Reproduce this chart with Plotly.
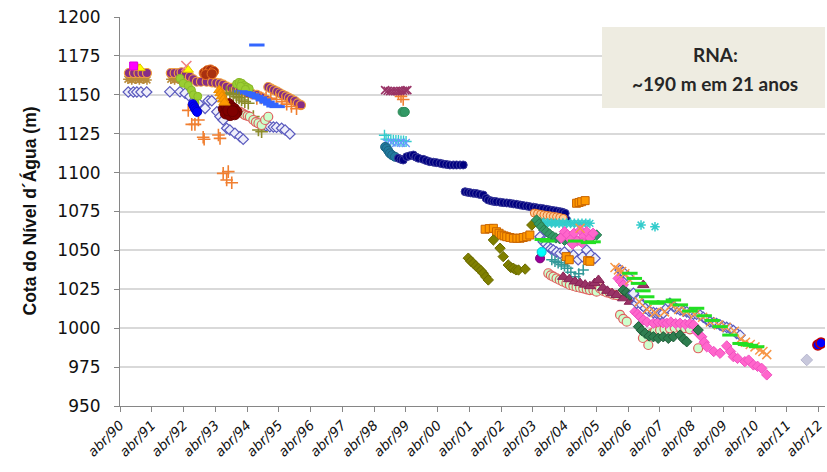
import plotly.graph_objects as go

# ---------------- axis labels ----------------
x_tick_years = [1990.25 + i for i in range(23)]
x_tick_text = ["abr/%02d" % (y % 100) for y in range(1990, 2013)]
y_ticks = [950, 975, 1000, 1025, 1050, 1075, 1100, 1125, 1150, 1175, 1200]

# ---------------- data (decimal year, elevation m) ----------------
purple1_x = [1990.53,1990.69,1990.83,1990.96,1991.10,1991.85,1991.97,1992.10,1992.19,1992.32,1992.45,1992.56,1992.67,1992.80,1992.98,1993.15,1993.28,1993.40,1993.50,1993.61,1993.75,1993.90,1994.02,1994.13,1994.27,1994.42,1994.56,1994.70,1994.87]
purple1_y = [1164,1164,1164,1164,1164,1164,1164,1164,1164.5,1163,1161.6,1160,1158.4,1158.4,1158.4,1158,1157.6,1157.4,1156.5,1155.2,1154.5,1153.5,1152.8,1152,1151,1150.5,1150,1148.5,1146.7]
purple2_x = [1994.92,1995.01,1995.10,1995.20,1995.29,1995.38,1995.48,1995.57,1995.66,1995.76,1995.85,1995.95]
purple2_y = [1155,1154,1153,1152,1151,1150,1149,1148,1147,1146,1144.5,1143.4]
brown_ast_x = [1990.50,1990.62,1990.74,1990.86,1990.98,1991.10,1991.85,1991.97,1992.10,1992.25,1992.40]
brown_ast_y = [1160,1159.5,1160,1159.5,1160,1159.5,1160,1159.5,1160,1159.5,1159]
bdiam1_x = [1990.51,1990.67,1990.78,1990.91,1991.09,1991.82,1992.14,1992.30,1992.45,1992.59,1992.72,1992.93,1993.03,1993.14,1993.30,1993.40,1993.50,1993.61,1993.71,1993.87,1994.03,1994.13,1994.71,1994.85,1994.97,1995.08,1995.18,1995.34,1995.45,1995.60]
bdiam1_y = [1151.8,1151.8,1151.8,1151.8,1151.8,1152,1152,1151,1148.8,1146.5,1144.5,1141.3,1146.2,1146.2,1139.1,1136,1133.8,1128.5,1127.4,1125.3,1123.1,1121.4,1130.6,1130,1129.5,1129.3,1129.1,1128.5,1127.4,1124.8]
oplus1_x = [1992.40,1992.72,1992.51,1992.61,1992.87,1992.90,1993.35,1993.40,1993.50,1993.66,1993.61,1993.77]
oplus1_y = [1140,1133.8,1131,1131,1122.7,1121.4,1124.2,1122,1099.5,1100.6,1095.2,1093.5]
oplus2_x = [1994.56,1994.70,1994.85,1995.00,1995.18,1995.35,1995.50,1995.65,1995.81,1999.02,1999.10,1999.17]
oplus2_y = [1147.7,1148,1148,1147.7,1147,1145.5,1144,1142.5,1141,1151,1149,1147]
maroon_x = [1993.52,1993.60,1993.68,1993.76,1993.84,1993.92,1993.58,1993.72,1993.86,1993.66,1993.80]
maroon_y = [1141,1143,1144,1142,1141,1139,1138,1137,1137.5,1140,1139.5]
rust_x = [1992.90,1993.00,1993.10,1993.20,1992.95,1993.15]
rust_y = [1164,1165.5,1166,1165,1163,1163.5]
lgreen1_x = [1994.03,1994.11,1994.19,1994.27,1994.34,1994.45,1994.53,1994.61,1994.71,1994.82,1994.92]
lgreen1_y = [1139.1,1138,1137,1136.5,1135.9,1133.8,1132.5,1131.7,1130.6,1133.8,1135.9]
bdash_x = [1994.03,1994.15,1994.27,1994.40,1994.52,1994.64,1994.76,1994.88,1995.00,1995.10,1995.20,1994.56]
bdash_y = [1152,1151.5,1151,1150,1149,1148,1146.7,1145.3,1144,1142.8,1142.4,1182]
ygreen_x = [1993.92,1994.00,1994.08,1994.16,1994.24,1994.32,1994.05,1994.20,1992.14,1992.24,1992.40,1992.50,1992.56,1992.61,1992.70]
ygreen_y = [1157,1158,1157.5,1156,1155,1154,1155.5,1153.5,1160.6,1157.4,1156,1153,1150,1144.7,1149]
bfill_x = [1992.54,1992.58,1992.61,1992.65,1992.68]
bfill_y = [1144,1142.5,1141.3,1140,1139]
otri_x = [1993.38,1993.42,1993.46,1993.50,1993.54]
otri_y = [1153,1151,1149,1147,1145]
oliveplus_x = [1993.60,1993.71,1993.82,1993.92,1994.00,1994.08,1994.18,1994.29,1994.45,1994.61,1994.71]
oliveplus_y = [1151.5,1151,1150,1148.8,1148,1146.7,1145.6,1144.6,1136,1127.4,1126.3]
pinkx_x = [1992.34]
pinkx_y = [1168.5]
ytri_x = [1990.80,1990.88,1992.40]
ytri_y = [1167.5,1167,1166]
msq_x = [1990.68]
msq_y = [1168.5]
pdash99_x = [1998.60,1998.68,1998.76,1998.84,1998.92,1999.00,1999.08,1999.16,1999.24,1999.30]
pdash99_y = [1153,1152.6,1152.4,1152.3,1152.3,1152.4,1152.5,1152.6,1152.8,1153]
green99_x = [1999.15,1999.22]
green99_y = [1139,1139]
cplus_x = [1998.58,1998.63,1998.70,1998.78,1998.86,1998.94,1999.02,1999.10,1999.18,1999.26]
cplus_y = [1124,1121.5,1121,1121,1120.8,1120.5,1120.5,1120.3,1120.2,1120]
bx99_x = [1998.66,1998.80,1998.95,1999.10,1999.25]
bx99_y = [1119,1119.3,1119,1119.2,1119]
teal_x = [1998.60,1998.65,1998.70,1998.75,1998.82,1998.91]
teal_y = [1116.5,1115.6,1114,1112.4,1111.2,1110.2]
navy_x = [1999.02,1999.10,1999.17,1999.28,1999.38,1999.49,1999.57,1999.65,1999.80,1999.90,2000.01,2000.12,2000.22,2000.33,2000.43,2000.54,2000.64,2000.75,2000.85,2000.96,2001.06,2001.12,2001.20,2001.29,2001.38,2001.48,2001.58,2001.69,2001.78,2001.85,2001.95,2002.03,2002.11,2002.22,2002.32,2002.43,2002.53,2002.64,2002.74,2002.85,2002.95,2003.06,2003.16,2003.27,2003.37,2003.48,2003.58,2003.69,2003.79,2003.90,2004.00,2004.11,2004.19,2004.27,2004.32]
navy_y = [1109.2,1108.5,1108.1,1110.2,1110.8,1111.3,1110,1109.2,1108.5,1107.7,1107,1106.7,1106.4,1106,1105.5,1105.2,1104.9,1104.9,1104.9,1104.9,1104.9,1087.7,1087.3,1087,1086.7,1086.5,1086,1085.6,1083.5,1082.4,1081.8,1081.5,1081.3,1081,1080.7,1080.5,1080.3,1079.9,1079.6,1079.2,1078.8,1078.5,1078.1,1077.8,1077.4,1077.1,1076.8,1076.4,1076,1075.6,1075.3,1074.9,1074.5,1073.8,1069.5]
osq1_x = [2001.75,2001.88,2002.01,2002.11,2002.19,2002.27,2002.35,2002.43,2002.53,2002.64,2002.75,2002.85,2002.95,2003.06,2003.16]
osq1_y = [1063.6,1064,1064.2,1062,1061,1059.9,1059.3,1058.8,1058.3,1057.8,1057.8,1057.8,1058.3,1058.8,1059.9]
osq2_x = [2004.63,2004.71,2004.79,2004.90,2004.30,2004.40,2004.98,2005.05]
osq2_y = [1080.3,1080.8,1081.3,1082,1046,1044,1043.4,1043]
olive_x = [2001.22,2001.30,2001.38,2001.46,2001.54,2001.62,2001.69,2001.77,2001.85,2002.01,2002.22,2002.32,2002.48,2002.56,2002.64,2002.72,2002.80,2003.01,2003.22]
olive_y = [1045,1043,1041.7,1040,1038.5,1037,1035.3,1033,1031,1056.7,1051.4,1046,1040.6,1039,1038.5,1037.5,1037.4,1038,1066.3]
peach_x = [2003.30,2003.40,2003.50,2003.60,2003.70,2003.80,2003.90,2004.00,2004.10,2004.21]
peach_y = [1074,1073.6,1073.2,1072.8,1072.5,1072.2,1071.9,1071.6,1071.2,1070.6]
cast_x = [2003.48,2003.60,2003.72,2003.84,2003.96,2004.08,2004.20,2004.32,2004.44,2004.56,2004.68,2004.80,2004.92,2005.05,2006.66,2007.10]
cast_y = [1068.4,1068,1067.8,1067.6,1067.6,1067.5,1067.5,1067.5,1067.4,1067.4,1067.4,1067.4,1067.4,1067.4,1066.3,1065.2]
dgreen1_x = [2003.37,2003.45,2003.52,2003.60,2003.68,2003.78,2003.88,2003.98,2004.10,2004.25,2004.42,2004.60,2004.80,2005.00,2005.15,2005.26]
dgreen1_y = [1069.5,1067,1065.2,1063,1062,1060.5,1059,1058,1057.5,1056.5,1055.6,1056.5,1057.5,1058.5,1059.5,1059.9]
dgreen2_x = [2006.10,2006.20,2006.31,2006.58,2006.68,2006.79,2006.92,2007.05,2007.20,2007.36,2007.52,2007.68,2007.89,2008.00,2008.10,2008.46]
dgreen2_y = [1024.5,1023,1021.3,1001,998.5,996.7,995,994.5,993.5,994.5,993.5,994.5,995.6,993,991.3,998.8]
pink1_x = [2004.15,2004.25,2004.35,2004.45,2004.55,2004.65,2004.75,2004.85,2004.95,2005.05,2005.15,2004.50,2004.80]
pink1_y = [1058,1062,1060,1057,1061,1056,1063,1059,1062,1058,1061,1054,1055]
pink2_x = [2005.94,2006.02,2006.10,2006.47,2006.55,2006.63,2006.73,2006.85,2007.05,2007.20,2007.35,2007.47,2007.60,2007.75,2007.89,2008.05,2008.20,2008.31,2008.41,2008.57,2008.65,2008.73,2008.95,2009.15,2009.36,2009.48,2009.57,2009.70,2009.93,2010.05,2010.20,2010.33,2010.46,2010.62]
pink2_y = [1032,1030,1027.8,1010.6,1009,1007.4,1005.3,1004,1003.2,1004,1003.5,1003.2,1004,1003,1003.2,1002.5,1003,1002.1,997.8,994.5,991,988.1,985,983.9,988.6,985,981.7,980.6,978.5,979.5,976.4,975.5,974.2,970]
tplus_x = [2003.85,2003.95,2004.05,2004.15,2004.25,2004.35,2004.45,2004.58,2004.70,2004.84]
tplus_y = [1044,1043,1042,1041,1040,1038.5,1036,1033,1035,1037.4]
lgreen2_x = [2003.74,2003.82,2003.90,2004.00,2004.10,2004.20,2004.31,2004.42,2004.53,2004.63,2004.74,2004.84,2004.95,2005.05,2005.16,2005.26,2005.37,2005.47,2005.58,2005.68,2005.78,2005.89,2006.00,2006.10,2006.21,2006.72,2006.89,2007.00,2007.10,2007.26,2007.40,2007.57,2007.72,2007.89,2008.05,2008.20,2008.46]
lgreen2_y = [1035.3,1034,1033.1,1032,1031,1030,1029,1027.8,1027.2,1026.5,1026,1025.6,1025,1024.5,1024.5,1023.5,1025.6,1024,1023,1022.6,1021.5,1021.3,1008.5,1006,1004.2,993.7,989.2,996.7,998,998.8,999.5,999.9,1000.3,1000.6,1000,999.3,987.1]
wine_x = [2004.21,2004.40,2004.58,2004.74,2004.90,2005.05,2005.20,2005.32,2005.46,2005.60,2005.75,2005.89,2006.10,2006.31,2006.73]
wine_y = [1033,1031.5,1030,1029,1028,1027,1029,1031,1026,1024,1022.5,1021.3,1019.2,1017,1027.8]
bdiam2_x = [2003.48,2003.58,2003.66,2003.74,2003.82,2003.90,2004.00,2004.11,2004.25,2004.40,2004.53,2004.68,2004.82,2004.95,2005.08,2005.21]
bdiam2_y = [1058.8,1055.6,1054,1052.4,1051,1050.3,1049,1048.1,1049,1046,1047,1044,1046,1050.3,1047,1044.9]
bdiam3_x = [2006.00,2006.10,2006.26,2006.42,2006.52,2006.58,2006.68,2006.79,2006.92,2007.05,2007.15,2007.26,2007.36,2007.47,2007.57,2007.68,2007.78,2007.89,2008.00,2008.10,2008.20,2008.31,2008.41,2008.52,2008.62,2008.73,2008.83,2008.94,2009.04,2009.15,2009.25,2009.36,2009.46,2009.57,2009.67,2009.78]
bdiam3_y = [1037.4,1036,1033.1,1022.4,1016,1018.1,1015,1012.8,1011,1010,1009.6,1009,1009.6,1013,1016,1014,1012.5,1011.7,1011,1010.5,1009.6,1009,1009,1008.5,1007,1005.5,1004.2,1003.5,1003,1002,1001,1000.5,999.9,998.5,996.7,995.5]
ox_x = [2005.84,2005.95,2006.05,2006.15,2006.31,2006.60,2006.85,2007.10,2007.40,2007.62,2007.85,2008.10,2008.35,2008.60,2008.85,2009.10,2009.35,2009.60,2009.80,2009.95,2010.10,2010.25,2010.40,2010.50,2010.62,2004.74]
ox_y = [1039,1037.5,1036.5,1035,1031,1017,1012,1010,1010.5,1015,1012,1010.5,1009,1007,1004,1002,1000.5,998,993,991,989.5,988,986,985,983,1064.2]
gdash_x = [2006.31,2006.45,2006.58,2006.72,2006.84,2007.00,2007.15,2007.40,2007.68,2007.90,2008.20,2008.41,2008.65,2008.90,2009.15,2009.46,2009.78,2009.95,2010.10,2010.30,2003.55,2003.70,2004.60,2005.00,2005.15]
gdash_y = [1035.3,1032,1028.8,1024,1020.2,1017,1016,1017,1018.1,1015,1011,1012.8,1008,1005,1001,995.6,990.2,989.5,989,988.1,1057,1056,1056,1055,1055.5]
mcirc_x = [2003.48]
mcirc_y = [1044.9]
ccirc_x = [2003.53]
ccirc_y = [1049]
gray_x = [2011.88]
gray_y = [979.6]
bred_x = [2012.23, 2012.33]
bred_y = [989.2, 990.5]

# ---------------- traces ----------------
fig = go.Figure()

def add(x, y, symbol, size, fill, edge, lw=1.0):
    fig.add_trace(go.Scatter(
        x=x, y=y, mode="markers", hoverinfo="skip", showlegend=False,
        marker=dict(symbol=symbol, size=size, color=fill,
                    line=dict(color=edge, width=lw))))

add(bdiam1_x, bdiam1_y, "diamond", 8, "#EEEEFA", "#5A5ABE", 1.2)
add(brown_ast_x, brown_ast_y, "asterisk-open", 8, "#B98A3A", "#B98A3A", 1.6)
add(purple1_x, purple1_y, "circle", 9, "#862D86", "#F0A040", 1.2)
add(purple2_x, purple2_y, "circle", 9, "#862D86", "#F0A040", 1.2)
add(oplus1_x, oplus1_y, "cross-thin-open", 9, "#F07F30", "#F07F30", 1.6)
add(oplus2_x, oplus2_y, "cross-thin-open", 9, "#F07F30", "#F07F30", 1.6)
add(ygreen_x, ygreen_y, "circle", 8, "#9ACD32", "#88B828", 1)
add(bdash_x, bdash_y, "line-ew-open", 11, "#3366FF", "#3366FF", 3)
add(oliveplus_x, oliveplus_y, "cross-thin-open", 9, "#8C8C2A", "#8C8C2A", 1.6)
add(lgreen1_x, lgreen1_y, "circle", 9, "#CCFFCC", "#E06060", 1.2)
add(maroon_x, maroon_y, "circle", 11, "#800000", "#6A0000", 1)
add(rust_x, rust_y, "circle", 10, "#A83010", "#E87020", 1)
add(bfill_x, bfill_y, "circle", 9, "#0000FF", "#0000CC", 1)
add(otri_x, otri_y, "triangle-up", 10, "#FF9900", "#E68A00", 1)
add(pinkx_x, pinkx_y, "x-thin-open", 10, "#F08080", "#F08080", 1.6)
add(ytri_x, ytri_y, "triangle-up", 9, "#FFFF00", "#E0C000", 1)
add(msq_x, msq_y, "square", 8, "#FF00FF", "#DD00DD", 1)

add(pdash99_x, pdash99_y, "x-thin-open", 8, "#993366", "#993366", 1.6)
add(green99_x, green99_y, "circle", 9, "#339966", "#2E8B57", 1)
add(cplus_x, cplus_y, "cross-thin-open", 8, "#33CCCC", "#33CCCC", 1.4)
add(bx99_x, bx99_y, "x-thin-open", 8, "#6699FF", "#6699FF", 1.4)
add(teal_x, teal_y, "circle", 9, "#217A9E", "#1B6584", 1)
add(navy_x, navy_y, "circle", 8, "#000080", "#3A3A9A", 1)

add(osq1_x, osq1_y, "square", 8, "#FF9900", "#C86400", 1)
add(olive_x, olive_y, "diamond", 8, "#808000", "#6B6B00", 1)
add(peach_x, peach_y, "circle", 8, "#FFCC99", "#E07020", 1)
add(cast_x, cast_y, "asterisk-open", 8, "#33CCCC", "#33CCCC", 1.5)
add(dgreen1_x, dgreen1_y, "diamond", 8, "#339966", "#2A7A50", 1)
add(bdiam2_x, bdiam2_y, "diamond", 8, "#EEEEFA", "#5A5ABE", 1.2)
add(tplus_x, tplus_y, "cross-thin-open", 8, "#339999", "#339999", 1.5)
add(lgreen2_x, lgreen2_y, "circle", 9, "#CCFFCC", "#E06060", 1.2)
add(wine_x, wine_y, "triangle-up", 10, "#993366", "#882255", 1)
add(pink1_x, pink1_y, "diamond", 8, "#FF66CC", "#F050C0", 1)
add(osq2_x, osq2_y, "square", 8, "#FF9900", "#C86400", 1)
add(mcirc_x, mcirc_y, "circle", 9, "#990099", "#770077", 1)
add(ccirc_x, ccirc_y, "circle", 9, "#00FFFF", "#00CCCC", 1)

add(pink2_x, pink2_y, "diamond", 8, "#FF66CC", "#F050C0", 1)
add(dgreen2_x, dgreen2_y, "diamond", 8, "#2E7D4F", "#1F5F3A", 1)
add(bdiam3_x, bdiam3_y, "diamond", 8, "#EEEEFA", "#5A5ABE", 1.2)
add(ox_x, ox_y, "x-thin-open", 9, "#F79646", "#F79646", 1.5)
add(gdash_x, gdash_y, "line-ew-open", 11, "#22E022", "#22E022", 3)
add(gray_x, gray_y, "diamond", 9, "#C8C8DC", "#B8B8D0", 1)
add(bred_x, bred_y, "circle", 10, "#0000FF", "#C00000", 1.5)

# ---------------- layout ----------------
L, R, T, B = 120, 2, 17, 66
W, H = 827, 472
plot_w = W - L - R
px_per_year = 31.75
x_end = x_tick_years[0] + plot_w / px_per_year

fig.update_layout(
    width=W, height=H,
    margin=dict(l=L, r=R, t=T, b=B, autoexpand=False),
    paper_bgcolor="white", plot_bgcolor="white",
    xaxis=dict(range=[x_tick_years[0], x_end], tickmode="array",
               tickvals=x_tick_years, ticktext=x_tick_text, tickangle=-45,
               ticks="outside", ticklen=5, tickcolor="#868686",
               showline=True, linecolor="#868686", linewidth=1,
               showgrid=False, zeroline=False, automargin=False,
               tickfont=dict(family="DejaVu Sans", size=13.5, color="#111111", style="italic")),
    yaxis=dict(range=[950, 1200], tickmode="array", tickvals=y_ticks,
               ticks="outside", ticklen=5, tickcolor="#868686",
               showline=True, linecolor="#868686", linewidth=1,
               showgrid=True, gridcolor="#D9D9D9", gridwidth=1.5,
               zeroline=False, automargin=False, ticklabelstandoff=10,
               tickfont=dict(family="DejaVu Sans", size=17, color="#111111")),
)

x0 = (602 - L) / plot_w
fig.add_shape(type="rect", xref="paper", yref="paper",
              x0=x0, x1=1.0, y0=1 - (108 - T) / (H - T - B), y1=1 - (27 - T) / (H - T - B),
              fillcolor="#EEECE1", line=dict(width=0), layer="above")
xc = (715 - L) / plot_w
fig.add_annotation(xref="paper", yref="paper", x=xc, y=1 - (55 - T) / (H - T - B),
                   text="<b>RNA:</b>", showarrow=False, xanchor="center", yanchor="middle",
                   font=dict(family="Lato", size=19, color="#262626"))
fig.add_annotation(xref="paper", yref="paper", x=xc, y=1 - (83 - T) / (H - T - B),
                   text="<b>~190 m em 21 anos</b>", showarrow=False, xanchor="center", yanchor="middle",
                   font=dict(family="Lato", size=19, color="#262626"))
fig.add_annotation(xref="paper", yref="paper", x=(29 - L) / plot_w, y=0.5,
                   text="<b>Cota do Nível d´Água (m)</b>", textangle=-90, showarrow=False,
                   xanchor="center", yanchor="middle",
                   font=dict(family="Liberation Sans", size=17.5, color="#111111"))

fig.write_html("out.html")
